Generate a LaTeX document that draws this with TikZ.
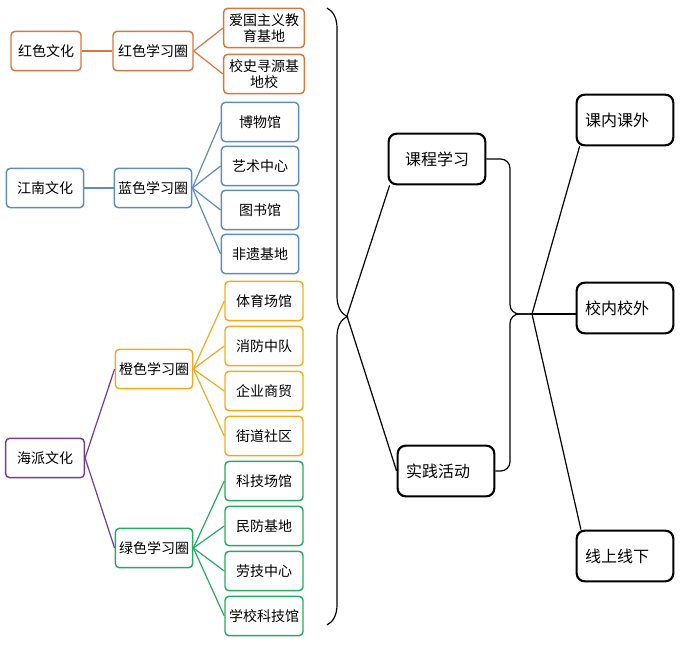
\documentclass[tikz,border=0pt]{standalone}
\usepackage{fontspec}
\setmainfont{Noto Sans CJK SC}
\usetikzlibrary{positioning,decorations.pathreplacing}
\definecolor{hsred}{RGB}{214,120,60}
\definecolor{jnblue}{RGB}{95,140,190}
\definecolor{csorange}{RGB}{245,170,30}
\definecolor{lsgreen}{RGB}{40,170,100}
\definecolor{hppurple}{RGB}{112,60,160}

\tikzset{
  box/.style={draw, rounded corners=3pt, line width=1.1pt, align=center, inner sep=1pt,
    minimum width=58pt, minimum height=29.5pt, font=\fontsize{10.5}{12}\selectfont},
  bigbox/.style={draw, rounded corners=6pt, line width=1.6pt, inner xsep=6pt,
    minimum width=72.5pt, minimum height=38pt, font=\fontsize{12}{14}\selectfont},
  link/.style={line width=0.9pt}
}

\begin{document}
\begin{tikzpicture}[x=0.75pt, y=-0.75pt]
\useasboundingbox (0,0) rectangle (681,657);

% Red culture
\node[box, draw=hsred, minimum width=52.5pt] (hswh) at (46,51) {红色文化};
\node[box, draw=hsred, minimum width=60pt] (hsq) at (153,51) {红色学习圈};
\node[box, draw=hsred, minimum width=60.5pt] (hs1) at (264,28) {爱国主义教\\育基地};
\node[box, draw=hsred, minimum width=60.5pt] (hs2) at (264,74) {校史寻源基\\地校};
\draw[link, hsred] (hswh) -- (hsq);
\foreach \c in {hs1,hs2} \draw[link, hsred] (hsq.east) -- (\c.west);

% Jiangnan culture
\node[box, draw=jnblue] (jnwh) at (45,188) {江南文化};
\node[box, draw=jnblue] (lsq) at (153,188) {蓝色学习圈};
\node[box, draw=jnblue] (jn1) at (260,122) {博物馆};
\node[box, draw=jnblue] (jn2) at (260,166) {艺术中心};
\node[box, draw=jnblue] (jn3) at (260,210) {图书馆};
\node[box, draw=jnblue] (jn4) at (260,254) {非遗基地};
\draw[link, jnblue] (jnwh) -- (lsq);
\foreach \c in {jn1,jn2,jn3,jn4} \draw[link, jnblue] (lsq.east) -- (\c.west);

% Haipai culture
\node[box, draw=hppurple, minimum width=59pt] (hpwh) at (45,458) {海派文化};
\node[box, draw=csorange] (csq) at (154,369) {橙色学习圈};
\node[box, draw=csorange, minimum width=58.5pt] (cs1) at (264,301) {体育场馆};
\node[box, draw=csorange, minimum width=58.5pt] (cs2) at (264,346) {消防中队};
\node[box, draw=csorange, minimum width=58.5pt] (cs3) at (264,391) {企业商贸};
\node[box, draw=csorange, minimum width=58.5pt] (cs4) at (264,436) {街道社区};
\node[box, draw=lsgreen] (lvq) at (154,548) {绿色学习圈};
\node[box, draw=lsgreen, minimum width=58.5pt] (lv1) at (264,481) {科技场馆};
\node[box, draw=lsgreen, minimum width=58.5pt] (lv2) at (264,526) {民防基地};
\node[box, draw=lsgreen, minimum width=58.5pt] (lv3) at (264,571) {劳技中心};
\node[box, draw=lsgreen, minimum width=58.5pt] (lv4) at (264,616) {学校科技馆};
\draw[link, hppurple] (hpwh.east) -- (csq.west);
\draw[link, hppurple] (hpwh.east) -- (lvq.west);
\foreach \c in {cs1,cs2,cs3,cs4} \draw[link, csorange] (csq.east) -- (\c.west);
\foreach \c in {lv1,lv2,lv3,lv4} \draw[link, lsgreen] (lvq.east) -- (\c.west);

% Big brace
\draw[link, decorate, decoration={brace, amplitude=15pt}] (327,8) -- (327,625);
\coordinate (b1) at (347,316);

% Middle column
\node[bigbox, align=center, text width=60pt] (kcxx) at (437,159) {课程学习};
\node[bigbox, align=left, text width=60pt] (sjhd) at (446,471) {实践活动};
\draw[link] (b1) -- ([xshift=1.5pt]kcxx.south west);
\draw[link] (b1) -- (sjhd.west);

% Second brace
\coordinate (m2) at (510,314);
\coordinate (b2) at (532,314);
\draw[link, rounded corners=7pt] (kcxx.east) -| (m2) -- (b2);
\draw[link, rounded corners=7pt] (sjhd.east) -| (m2) -- (b2);

% Right column
\node[bigbox, align=left, text width=60pt] (knkw) at (625,120) {课内课外};
\node[bigbox, align=left, text width=60pt] (xnxw) at (625,308) {校内校外};
\node[bigbox, align=left, text width=60pt] (xsxx) at (625,556) {线上线下};
\draw[link] (b2) -- ([xshift=3pt]knkw.south west);
\draw[link] (b2) -- (b2 -| xnxw.west);
\draw[link] (b2) -- ([xshift=4pt]xsxx.north west);
\end{tikzpicture}
\end{document}
